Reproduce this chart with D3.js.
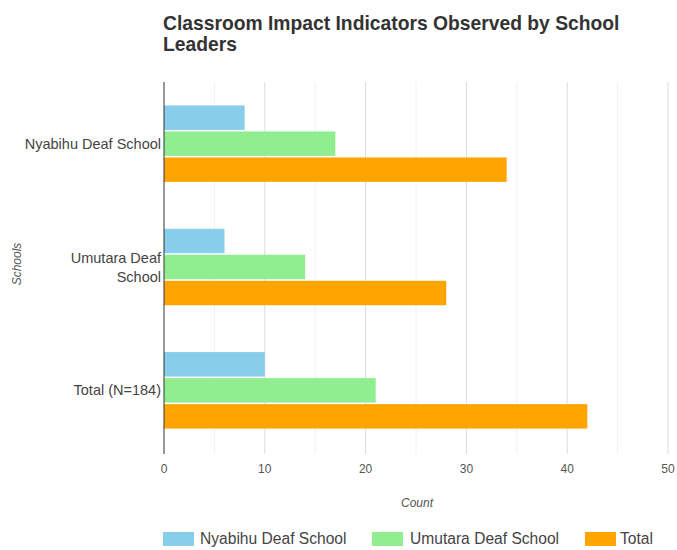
<!DOCTYPE html>
<html><head><meta charset="utf-8">
<script src="https://cdn.jsdelivr.net/npm/d3@7"></script>
<style>body{margin:0;background:#fff;font-family:"Liberation Sans",Arial,sans-serif;}</style>
</head><body><svg id="c" width="677" height="550"></svg>
<script>
const categories = ["Nyabihu Deaf School", "Umutara Deaf School", "Total (N=184)"];
const categoryLines = [["Nyabihu Deaf School"], ["Umutara Deaf", "School"], ["Total (N=184)"]];
const seriesNames = ["Nyabihu Deaf School", "Umutara Deaf School", "Total"];
const nyabihu = [8, 6, 10];
const umutara = [17, 14, 21];
const total = [34, 28, 42];
const colors = ["#87CEEB", "#90EE90", "#FFA500"];
const xTicks = [0, 10, 20, 30, 40, 50];
const minorTicks = [5, 15, 25, 35, 45];

const series = [nyabihu, umutara, total];
const svg = d3.select("#c");
const m = {l: 164, r: 668, t: 82, b: 454};
const x = d3.scaleLinear().domain([0, 50]).range([m.l, m.r]);
const y = d3.scaleBand().domain(categories).range([82, 452]).paddingInner(0.38).paddingOuter(0.19);
const sub = d3.scaleBand().domain(d3.range(3)).range([0, y.bandwidth()]).paddingInner(0.06);

// title
svg.append("text").attr("x", 163).attr("y", 30).attr("font-size", 19.3).attr("font-weight", "bold").attr("fill", "#333")
  .text("Classroom Impact Indicators Observed by School");
svg.append("text").attr("x", 163).attr("y", 51).attr("font-size", 19.3).attr("font-weight", "bold").attr("fill", "#333")
  .text("Leaders");

// grid
svg.selectAll(".minor").data(minorTicks).enter().append("line")
  .attr("x1", d => x(d)).attr("x2", d => x(d)).attr("y1", m.t).attr("y2", m.b)
  .attr("stroke", "#f0f0f0").attr("stroke-width", 1);
svg.selectAll(".major").data(xTicks.slice(1)).enter().append("line")
  .attr("x1", d => x(d)).attr("x2", d => x(d)).attr("y1", m.t).attr("y2", m.b)
  .attr("stroke", "#dcdcdc").attr("stroke-width", 1);

// bars
categories.forEach((c, i) => {
  series.forEach((s, j) => {
    svg.append("rect").attr("x", x(0)).attr("y", y(c) + sub(j))
      .attr("width", x(s[i]) - x(0)).attr("height", sub.bandwidth()).attr("fill", colors[j]);
  });
});

// baseline
svg.append("line").attr("x1", x(0)).attr("x2", x(0)).attr("y1", m.t).attr("y2", m.b)
  .attr("stroke", "#333").attr("stroke-width", 1);

// x tick labels
svg.selectAll(".xt").data(xTicks).enter().append("text")
  .attr("x", d => x(d)).attr("y", 473).attr("text-anchor", "middle")
  .attr("font-size", 12).attr("fill", "#555").text(d => d);

// y labels
categories.forEach((c, i) => {
  const lines = categoryLines[i];
  const cy = y(c) + y.bandwidth() / 2;
  lines.forEach((ln, k) => {
    svg.append("text").attr("x", 161).attr("y", cy + 5 + (k - (lines.length - 1) / 2) * 19)
      .attr("text-anchor", "end").attr("font-size", 14.5).attr("fill", "#444").text(ln);
  });
});

// axis titles
svg.append("text").attr("x", 417).attr("y", 507).attr("text-anchor", "middle")
  .attr("font-size", 12).attr("font-style", "italic").attr("fill", "#555").text("Count");
svg.append("text").attr("transform", "translate(21,264) rotate(-90)").attr("text-anchor", "middle")
  .attr("font-size", 12).attr("font-style", "italic").attr("fill", "#555").text("Schools");

// legend
const legX = [163, 372, 585];
const legTextX = [200, 410, 620];
seriesNames.forEach((n, j) => {
  svg.append("rect").attr("x", legX[j]).attr("y", 532).attr("width", 31).attr("height", 14).attr("fill", colors[j]);
  svg.append("text").attr("x", legTextX[j]).attr("y", 544).attr("font-size", 15.6).attr("fill", "#444").text(n);
});
</script></body></html>
